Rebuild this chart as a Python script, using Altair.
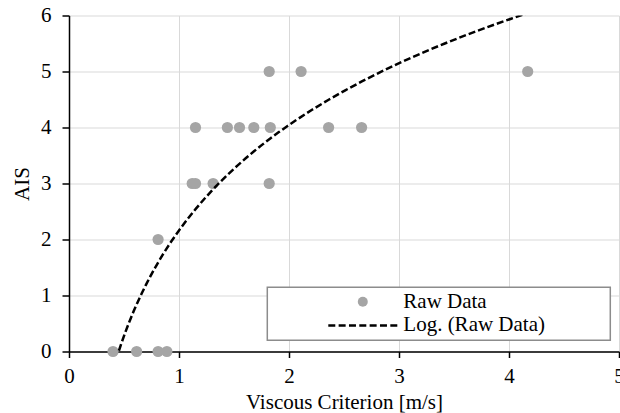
import altair as alt
import pandas as pd

# ---- data ----
vc_values = [0.40, 0.615, 0.81, 0.89, 0.81, 1.12, 1.15, 1.31, 1.82,
             1.15, 1.44, 1.55, 1.68, 1.83, 2.36, 2.66, 1.82, 2.11, 4.17]
ais_values = [0, 0, 0, 0, 2, 3, 3, 3, 3,
              4, 4, 4, 4, 4, 4, 4, 5, 5, 5]
series_names = ["Raw Data", "Log. (Raw Data)"]
x_ticks = [0, 1, 2, 3, 4, 5]
y_ticks = [0, 1, 2, 3, 4, 5, 6]

df = pd.DataFrame({"vc": vc_values, "ais": ais_values, "series": series_names[0]})

FONT = "Liberation Serif, Times New Roman, Times, serif"
FS = 21

xscale = alt.Scale(domain=[0, 5], nice=False)
yscale = alt.Scale(domain=[0, 6], nice=False)

x_enc = alt.X("vc:Q", scale=xscale, axis=alt.Axis(
    values=x_ticks, title="Viscous Criterion [m/s]", format="d",
    tickSize=6, labelPadding=8, labelFlush=False, titleX=275, titleY=57,
    titleBaseline="alphabetic", titleAlign="center"))
y_enc = alt.Y("ais:Q", scale=yscale, axis=alt.Axis(
    values=y_ticks, title="AIS", format="d",
    tickSize=7, labelPadding=11, labelFlush=False, titleX=-46.5, titleY=168,
    titleAngle=270, titleBaseline="middle", titleAlign="center"))

is_raw = "datum.value === 'Raw Data'"
# dashed legend sample; the trailing move-to only widens the legend box
dash_path = ("M-6.9,0h1.4m0.667,0h1.4m0.667,0h1.4m0.667,0h1.4m0.667,0h1.4"
             "m0.667,0h1.4m0.667,0h1.4M47.7,0")

legend = alt.Legend(
    title=None, orient="none", legendX=198.3, legendY=271.8,
    padding=4, strokeColor="#8c8c8c", fillColor="white",
    symbolSize=100, symbolOffset=81, labelOffset=30, rowPadding=1.6,
    labelFont=FONT, labelFontSize=FS, labelColor="black", labelLimit=400,
    symbolType={"expr": is_raw + " ? 'circle' : '" + dash_path + "'"},
    symbolStrokeColor={"expr": is_raw + " ? 'transparent' : 'black'"},
    symbolStrokeWidth=2.5,
    symbolOpacity=1,
)

points = alt.Chart(df).mark_circle(size=125, opacity=1).encode(
    x=x_enc, y=y_enc,
    color=alt.Color("series:N",
                    scale=alt.Scale(domain=series_names, range=["#a5a5a5", "#000000"]),
                    legend=legend),
)

trend = alt.Chart(df).transform_regression(
    "vc", "ais", method="log"
).mark_line(color="black", strokeDash=[7, 3], strokeWidth=2.5, clip=True).encode(
    x=x_enc, y=y_enc,
)

chart = alt.layer(points, trend).properties(
    width=550, height=336,
    autosize=alt.AutoSizeParams(type="none"),
    padding={"left": 69, "top": 15.5, "right": 1, "bottom": 61.5},
).configure_view(stroke=None).configure_axis(
    labelFont=FONT, titleFont=FONT, labelFontSize=FS, titleFontSize=FS,
    labelColor="black", titleColor="black", titleFontWeight="normal",
    gridColor="#d9d9d9", gridWidth=1,
    domainColor="black", domainWidth=1.5, tickColor="black", tickWidth=1.5,
).configure_legend(strokeWidth=1.5)

chart.save("out.html", embed_options={"renderer": "svg", "actions": False})
